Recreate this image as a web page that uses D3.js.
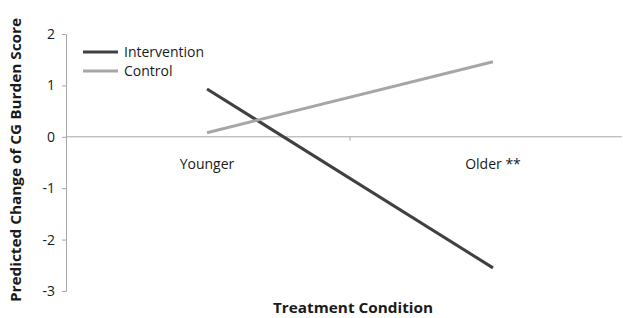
<!DOCTYPE html>
<html>
<head>
<meta charset="utf-8">
<script src="https://cdn.jsdelivr.net/npm/d3@7"></script>
<style>
  body { margin: 0; background: #fff; }
  text { font-family: "Open Sans", "DejaVu Sans", sans-serif; fill: #1a1a1a; }
</style>
</head>
<body>
<div id="chart"></div>
<script>
// data
const categories = ["Younger", "Older **"]
const intervention = [0.93, -2.55]
const control = [0.08, 1.46]
const yTicks = [2, 1, 0, -1, -2, -3]

const width = 623, height = 318

const svg = d3.select("#chart")
  .append("svg")
  .attr("width", width)
  .attr("height", height)

const x = d3.scalePoint(categories, [64, 636]).padding(0.5)
const y = d3.scaleLinear([-3, 2], [291, 34])

const axisColor = "#a6a6a6"

// y axis
const yAxis = svg.append("g")
  .attr("transform", "translate(66,0)")
  .call(d3.axisLeft(y).tickValues(yTicks).tickSize(4).tickPadding(7).tickFormat(d => String(d)))
yAxis.select(".domain").attr("stroke", axisColor)
yAxis.selectAll(".tick line").attr("stroke", axisColor)
yAxis.selectAll(".tick text")
  .style("font-size", "14px")
  .style("font-family", "'Open Sans', sans-serif")
  .attr("fill", "#1a1a1a")

// x axis along zero
svg.append("line")
  .attr("x1", 66).attr("x2", 622)
  .attr("y1", y(0)).attr("y2", y(0))
  .attr("stroke", axisColor)
svg.append("line")
  .attr("x1", 350).attr("x2", 350)
  .attr("y1", y(0)).attr("y2", y(0) + 4)
  .attr("stroke", axisColor)

svg.selectAll(".cat")
  .data(categories)
  .join("text")
  .attr("class", "cat")
  .attr("x", d => x(d))
  .attr("y", 169)
  .attr("text-anchor", "middle")
  .style("font-size", "14px")
  .text(d => d)

// series lines
const line = d3.line().x((d, i) => x(categories[i])).y(d => y(d))
const series = [
  {name: "Intervention", values: intervention, color: "#404040"},
  {name: "Control", values: control, color: "#a6a6a6"}
]

svg.selectAll(".series")
  .data(series)
  .join("path")
  .attr("class", "series")
  .attr("d", d => line(d.values))
  .attr("fill", "none")
  .attr("stroke", d => d.color)
  .attr("stroke-width", 3)

// legend
const legend = svg.selectAll(".legend")
  .data(series)
  .join("g")
  .attr("class", "legend")
  .attr("transform", (d, i) => `translate(83,${52 + i * 19})`)
legend.append("line")
  .attr("x1", 0).attr("x2", 35)
  .attr("stroke", d => d.color)
  .attr("stroke-width", 3)
legend.append("text")
  .attr("x", 41)
  .attr("dy", "0.35em")
  .style("font-size", "14px")
  .text(d => d.name)

// axis titles
svg.append("text")
  .attr("transform", "translate(21,160) rotate(-90)")
  .attr("text-anchor", "middle")
  .style("font-size", "14px")
  .style("font-weight", "bold")
  .attr("textLength", 284)
  .attr("lengthAdjust", "spacingAndGlyphs")
  .text("Predicted Change of CG Burden Score")

svg.append("text")
  .attr("x", 353)
  .attr("y", 313)
  .attr("text-anchor", "middle")
  .style("font-size", "14px")
  .style("font-weight", "bold")
  .attr("textLength", 160)
  .attr("lengthAdjust", "spacingAndGlyphs")
  .text("Treatment Condition")
</script>
</body>
</html>
